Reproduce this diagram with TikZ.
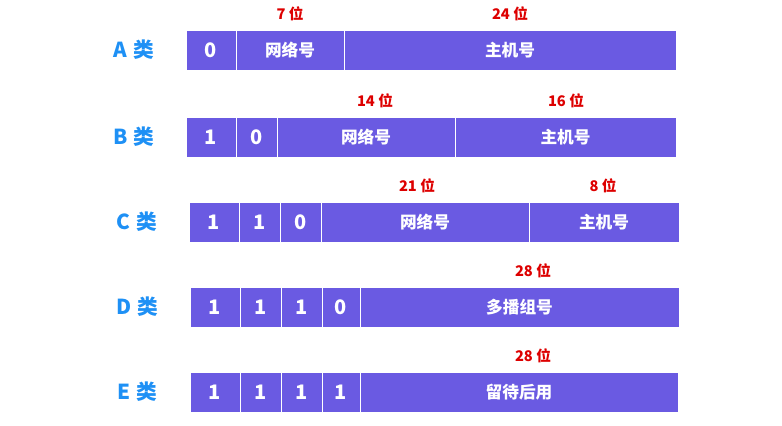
\documentclass[tikz,border=0pt]{standalone}
\usepackage{fontspec}
\setmainfont{Noto Sans CJK SC}
\definecolor{cellfill}{HTML}{6A5AE2}
\definecolor{classblue}{HTML}{1E90F5}
\definecolor{bitsred}{HTML}{DD0000}
\newcommand{\cellH}{40}
% style, name, x1, x2, y (centre), text
\newcommand{\ipcell}[6]{%
  \node[#1, minimum width={(#4-#3)*0.75pt}, minimum height={\cellH*0.75pt}]
    (#2) at ({(#3+#4)/2},#5) {#6};}
\newcommand{\iplab}[3]{\node[classlab] (#1) at (#2,#3) {#1\hspace{0.3em}类};}
\tikzset{
  cellbase/.style={rectangle, fill=cellfill, draw=white, line width=0.6pt,
    inner sep=0pt, outer sep=0pt, text=white},
  bitcell/.style={cellbase, font=\bfseries\fontsize{15}{17}\selectfont},
  fieldcell/.style={cellbase, font=\bfseries\fontsize{12.5}{14}\selectfont},
  classlab/.style={text=classblue, font=\bfseries\fontsize{15.5}{18}\selectfont},
  bitslab/.style={text=bitsred, font=\bfseries\fontsize{11}{13}\selectfont}
}
\begin{document}
\begin{tikzpicture}[x=0.75pt, y=-0.75pt]
\useasboundingbox (0,0) rectangle (782,425);
% A
\iplab{A}{134}{50}
\ipcell{bitcell}{A1}{186}{236}{50}{0}
\ipcell{fieldcell}{Anet}{236}{344}{50}{网络号}
\ipcell{fieldcell}{Ahost}{344}{676}{50}{主机号}
\node[bitslab] (Anetbits) at (290,14) {7 位};
\node[bitslab] (Ahostbits) at (510,14) {24 位};
% B
\iplab{B}{134}{137}
\ipcell{bitcell}{B1}{186}{236}{137}{1}
\ipcell{bitcell}{B2}{236}{277}{137}{0}
\ipcell{fieldcell}{Bnet}{277}{455}{137}{网络号}
\ipcell{fieldcell}{Bhost}{455}{676}{137}{主机号}
\node[bitslab] (Bnetbits) at (375,101) {14 位};
\node[bitslab] (Bhostbits) at (566,101) {16 位};
% C
\iplab{C}{137}{222}
\ipcell{bitcell}{C1}{189}{239}{222}{1}
\ipcell{bitcell}{C2}{239}{280}{222}{1}
\ipcell{bitcell}{C3}{280}{321}{222}{0}
\ipcell{fieldcell}{Cnet}{321}{529}{222}{网络号}
\ipcell{fieldcell}{Chost}{529}{679}{222}{主机号}
\node[bitslab] (Cnetbits) at (417,186) {21 位};
\node[bitslab] (Chostbits) at (603,186) {8 位};
% D
\iplab{D}{137}{307}
\ipcell{bitcell}{D1}{190}{240}{307}{1}
\ipcell{bitcell}{D2}{240}{281}{307}{1}
\ipcell{bitcell}{D3}{281}{322}{307}{1}
\ipcell{bitcell}{D4}{322}{360}{307}{0}
\ipcell{fieldcell}{Dgroup}{360}{679}{307}{多播组号}
\node[bitslab] (Dgroupbits) at (533,271) {28 位};
% E
\iplab{E}{137}{392}
\ipcell{bitcell}{E1}{190}{240}{392}{1}
\ipcell{bitcell}{E2}{240}{281}{392}{1}
\ipcell{bitcell}{E3}{281}{322}{392}{1}
\ipcell{bitcell}{E4}{322}{360}{392}{1}
\ipcell{fieldcell}{Eres}{360}{678}{392}{留待后用}
\node[bitslab] (Eresbits) at (533,356) {28 位};
\end{tikzpicture}
\end{document}
